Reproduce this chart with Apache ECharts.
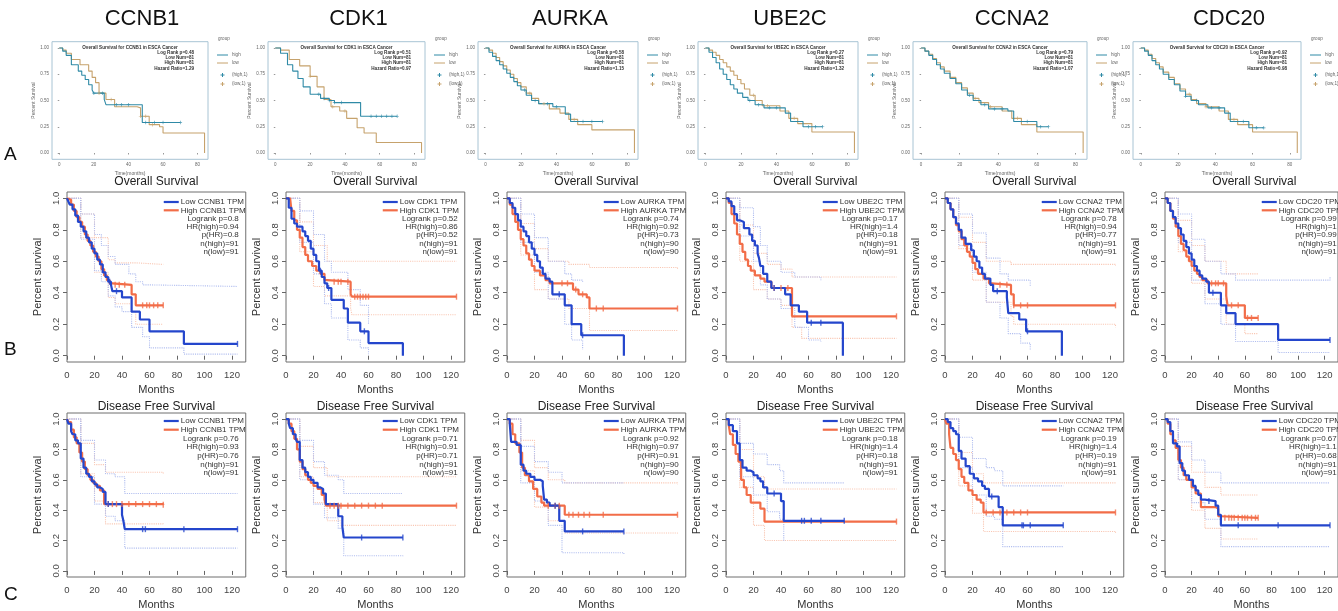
<!DOCTYPE html>
<html>
<head>
<meta charset="UTF-8">
<title>ESCA survival panels</title>
<script src="https://cdn.jsdelivr.net/npm/echarts@6/dist/echarts.min.js"></script>
<style>html,body{margin:0;padding:0;background:#fff}#main{width:1338px;height:611px}</style>
</head>
<body>
<div id="main"></div>
<script>
var genes = ['CCNB1', 'CDK1', 'AURKA', 'UBE2C', 'CCNA2', 'CDC20'];

// row A text
var aLogRank = ['0.48', '0.51', '0.58', '0.27', '0.79', '0.92'];
var aHazard = ['1.29', '0.97', '1.15', '1.32', '1.07', '0.98'];
var aLowNum = [81, 81, 81, 81, 81, 81];
var aHighNum = [81, 81, 81, 81, 81, 81];

// row B / C text
var osLogrank = ['0.8', '0.52', '0.74', '0.17', '0.78', '0.99'];
var osHR = ['0.94', '0.86', '0.92', '1.4', '0.94', '1'];
var osPHR = ['0.8', '0.52', '0.73', '0.18', '0.77', '0.99'];
var osN = [91, 91, 90, 91, 91, 91];
var dfsLogrank = ['0.76', '0.71', '0.92', '0.18', '0.19', '0.67'];
var dfsHR = ['0.93', '0.91', '0.97', '1.4', '1.4', '1.1'];
var dfsPHR = ['0.76', '0.71', '0.91', '0.18', '0.19', '0.68'];
var dfsN = [91, 91, 90, 91, 91, 91];

var xTicksKM = [0, 20, 40, 60, 80, 100, 120];
var yTicksKM = [0, 0.2, 0.4, 0.6, 0.8, 1.0];
var xTicksA = [0, 20, 40, 60, 80];
var yTicksA = [0, 0.25, 0.5, 0.75, 1.0];

// ---- row A curves [months, survival] ----
var aHigh_CCNB1 = [[0,1],[2,0.97],[4,0.93],[7,0.84],[11,0.78],[13,0.74],[15,0.7],[17,0.65],[19,0.6],[20,0.57],[26,0.51],[27,0.46],[48,0.29],[70,0.29]];
var aLow_CCNB1 = [[0,1],[2,0.98],[4,0.95],[7,0.89],[12,0.84],[17,0.78],[19,0.72],[21,0.67],[23,0.57],[27,0.51],[32,0.44],[45,0.43],[47,0.35],[52,0.27],[58,0.25],[60,0.19],[84,0.19],[84,0]];
var aHighCens_CCNB1 = [20, 25, 33, 36, 40, 50, 55, 60, 70];
var aLowCens_CCNB1 = [23, 30, 47, 50, 54];
var aHigh_CDK1 = [[0,1],[3,0.95],[7,0.84],[10,0.78],[13,0.71],[16,0.63],[20,0.56],[26,0.52],[31,0.5],[34,0.48],[49,0.35],[70,0.35]];
var aLow_CDK1 = [[0,1],[3,0.98],[8,0.89],[14,0.83],[20,0.73],[24,0.63],[28,0.51],[32,0.44],[37,0.4],[41,0.33],[47,0.24],[51,0.19],[58,0.1],[84,0.1],[84,0]];
var aHighCens_CDK1 = [25, 28, 31, 34, 38, 55, 58, 61, 64, 67, 70];
var aLowCens_CDK1 = [20, 33, 40];
var aHigh_AURKA = [[0,1],[2,0.96],[4,0.92],[6,0.88],[8,0.84],[10,0.8],[12,0.76],[14,0.72],[16,0.68],[18,0.64],[20,0.6],[23,0.55],[26,0.5],[30,0.47],[38,0.44],[45,0.37],[48,0.3],[66,0.3]];
var aLow_AURKA = [[0,1],[2,0.98],[4,0.95],[6,0.91],[8,0.87],[10,0.83],[12,0.79],[14,0.75],[16,0.71],[18,0.67],[20,0.63],[23,0.57],[26,0.52],[30,0.47],[36,0.42],[42,0.38],[47,0.32],[52,0.27],[60,0.22],[84,0.22],[84,0]];
var aHighCens_AURKA = [22, 28, 35, 40, 55, 60, 66];
var aLowCens_AURKA = [25, 33, 50];
var aHigh_UBE2C = [[0,1],[2,0.96],[4,0.91],[6,0.86],[8,0.8],[10,0.75],[12,0.7],[14,0.65],[16,0.61],[18,0.57],[21,0.53],[24,0.5],[28,0.46],[33,0.43],[45,0.38],[48,0.3],[55,0.25],[66,0.25]];
var aLow_UBE2C = [[0,1],[2,0.98],[4,0.96],[6,0.93],[8,0.89],[10,0.86],[12,0.82],[14,0.78],[16,0.74],[18,0.7],[20,0.66],[22,0.61],[25,0.55],[28,0.5],[32,0.45],[42,0.4],[47,0.33],[52,0.28],[60,0.2],[84,0.2],[84,0]];
var aHighCens_UBE2C = [25, 30, 36, 40, 58, 62, 66];
var aLowCens_UBE2C = [27, 35, 50];
var aHigh_CCNA2 = [[0,1],[2,0.97],[4,0.93],[6,0.89],[8,0.84],[10,0.8],[12,0.76],[15,0.71],[18,0.66],[21,0.6],[24,0.55],[27,0.5],[31,0.46],[35,0.42],[45,0.4],[48,0.3],[60,0.25],[66,0.25]];
var aLow_CCNA2 = [[0,1],[2,0.97],[4,0.94],[6,0.9],[8,0.86],[10,0.82],[12,0.78],[15,0.72],[18,0.67],[21,0.62],[24,0.57],[27,0.52],[30,0.48],[35,0.44],[42,0.4],[47,0.33],[52,0.27],[60,0.2],[84,0.15],[84,0]];
var aHighCens_CCNA2 = [25, 33, 38, 42, 55, 62, 66];
var aLowCens_CCNA2 = [28, 36, 50];
var aHigh_CDC20 = [[0,1],[2,0.97],[4,0.93],[6,0.88],[8,0.84],[10,0.8],[12,0.75],[15,0.7],[18,0.65],[21,0.59],[24,0.54],[27,0.5],[31,0.46],[36,0.43],[45,0.38],[48,0.3],[58,0.24],[66,0.24]];
var aLow_CDC20 = [[0,1],[2,0.98],[4,0.94],[6,0.9],[8,0.86],[10,0.82],[12,0.77],[15,0.72],[18,0.66],[21,0.61],[24,0.56],[27,0.51],[30,0.47],[35,0.44],[42,0.4],[47,0.32],[52,0.27],[60,0.2],[84,0.2],[84,0]];
var aHighCens_CDC20 = [24, 30, 38, 42, 55, 62, 66];
var aLowCens_CDC20 = [26, 35, 50];

// ---- row B: overall survival (GEPIA) ----
var osLow_CCNB1 = [[0,1],[1,0.98],[2,0.96],[4,0.93],[6,0.89],[8,0.85],[10,0.82],[12,0.79],[14,0.75],[16,0.72],[18,0.68],[20,0.65],[22,0.61],[24,0.58],[26,0.53],[28,0.5],[30,0.47],[32,0.45],[33,0.41],[40,0.37],[47,0.28],[53,0.23],[60,0.155],[85,0.075],[124,0.075]];
var osHigh_CCNB1 = [[0,1],[1,0.99],[3,0.96],[5,0.92],[7,0.88],[9,0.85],[11,0.82],[13,0.77],[15,0.73],[17,0.7],[19,0.66],[21,0.63],[23,0.6],[25,0.55],[27,0.51],[29,0.48],[31,0.46],[33,0.45],[47,0.39],[50,0.32],[70,0.32]];
var osLowUp_CCNB1 = [[0,1],[10,0.9],[20,0.77],[25,0.7],[30,0.63],[35,0.58],[45,0.52],[50,0.47],[55,0.45],[60,0.44],[124,0.44]];
var osLowDn_CCNB1 = [[0,1],[10,0.74],[20,0.54],[25,0.47],[30,0.38],[35,0.31],[40,0.28],[47,0.18],[55,0.12],[60,0.05],[85,0.01],[124,0.01]];
var osHighUp_CCNB1 = [[0,1],[10,0.9],[20,0.75],[30,0.61],[35,0.59],[50,0.58],[70,0.58]];
var osHighDn_CCNB1 = [[0,1],[10,0.75],[20,0.53],[30,0.37],[35,0.33],[47,0.28],[50,0.2],[70,0.2]];
var osLowCens_CCNB1 = [31, 36, 124];
var osHighCens_CCNB1 = [35, 38, 42, 55, 58, 60, 63, 66, 70];

var osLow_CDK1 = [[0,1],[2,0.94],[4,0.87],[6,0.84],[8,0.82],[12,0.79],[14,0.76],[16,0.73],[18,0.68],[20,0.64],[22,0.6],[24,0.54],[26,0.5],[28,0.46],[30,0.43],[33,0.355],[42,0.3],[45,0.21],[54,0.155],[60,0.08],[85,0.08],[85,0]];
var osHigh_CDK1 = [[0,1],[3,1],[4,0.92],[6,0.86],[8,0.8],[10,0.75],[12,0.69],[14,0.64],[16,0.6],[19,0.57],[22,0.54],[25,0.52],[28,0.48],[30,0.47],[47,0.39],[48,0.375],[124,0.375]];
var osLowUp_CDK1 = [[0,1],[10,0.92],[20,0.77],[28,0.6],[33,0.53],[45,0.42],[54,0.32],[60,0.2]];
var osLowDn_CDK1 = [[0,1],[10,0.72],[20,0.52],[28,0.33],[33,0.24],[45,0.1],[54,0.05],[60,0.01]];
var osHighUp_CDK1 = [[0,1],[10,0.85],[20,0.7],[30,0.6],[124,0.6]];
var osHighDn_CDK1 = [[0,1],[10,0.66],[20,0.44],[28,0.38],[47,0.3],[48,0.26],[124,0.26]];
var osLowCens_CDK1 = [25, 31, 57];
var osHighCens_CDK1 = [35, 38, 40, 45, 50, 52, 54, 56, 58, 60, 124];

var osLow_AURKA = [[0,1],[2,0.97],[4,0.94],[6,0.9],[8,0.86],[10,0.82],[12,0.79],[14,0.76],[16,0.72],[18,0.68],[20,0.64],[22,0.6],[24,0.56],[26,0.52],[28,0.49],[31,0.47],[33,0.39],[42,0.32],[47,0.2],[54,0.13],[85,0.13],[85,0]];
var osHigh_AURKA = [[0,1],[2,0.96],[4,0.9],[6,0.85],[8,0.8],[10,0.74],[12,0.7],[14,0.65],[16,0.61],[18,0.57],[20,0.54],[24,0.51],[28,0.48],[31,0.46],[48,0.42],[52,0.39],[58,0.37],[60,0.3],[124,0.3]];
var osLowUp_AURKA = [[0,1],[10,0.9],[20,0.75],[30,0.6],[42,0.52],[47,0.48],[55,0.47]];
var osLowDn_AURKA = [[0,1],[10,0.72],[20,0.53],[30,0.36],[42,0.2],[47,0.1],[55,0.04]];
var osHighUp_AURKA = [[0,1],[10,0.84],[20,0.68],[30,0.6],[45,0.58],[60,0.56],[124,0.55]];
var osHighDn_AURKA = [[0,1],[10,0.64],[20,0.42],[30,0.36],[45,0.3],[60,0.16],[124,0.16]];
var osLowCens_AURKA = [38, 55];
var osHighCens_AURKA = [40, 44, 50, 55, 65, 70, 124];

var osLow_UBE2C = [[0,1],[2,0.98],[4,0.95],[6,0.9],[8,0.86],[10,0.85],[13,0.81],[17,0.77],[19,0.73],[21,0.7],[23,0.65],[24,0.62],[25,0.57],[27,0.52],[30,0.47],[33,0.43],[43,0.39],[47,0.32],[53,0.28],[59,0.21],[85,0.21],[85,0]];
var osHigh_UBE2C = [[0,1],[2,0.97],[4,0.9],[6,0.84],[8,0.77],[10,0.71],[12,0.66],[14,0.61],[16,0.57],[18,0.54],[21,0.51],[25,0.49],[28,0.47],[33,0.43],[48,0.25],[124,0.25]];
var osLowUp_UBE2C = [[0,1],[10,0.94],[20,0.82],[25,0.7],[30,0.6],[40,0.53],[50,0.5],[69,0.48]];
var osLowDn_UBE2C = [[0,1],[10,0.76],[20,0.6],[25,0.45],[30,0.36],[40,0.3],[50,0.18],[60,0.1],[69,0.09]];
var osHighUp_UBE2C = [[0,1],[10,0.83],[20,0.65],[30,0.58],[40,0.55],[48,0.5],[124,0.5]];
var osHighDn_UBE2C = [[0,1],[10,0.6],[20,0.42],[30,0.36],[40,0.32],[48,0.18],[55,0.11],[124,0.11]];
var osLowCens_UBE2C = [35, 62, 69];
var osHighCens_UBE2C = [35, 40, 45, 124];

var osLow_CCNA2 = [[0,1],[2,0.97],[4,0.93],[6,0.88],[8,0.84],[10,0.8],[12,0.75],[15,0.71],[19,0.67],[21,0.63],[23,0.6],[25,0.56],[27,0.52],[29,0.49],[33,0.45],[35,0.41],[45,0.37],[46,0.27],[54,0.23],[59,0.155],[85,0.155],[85,0]];
var osHigh_CCNA2 = [[0,1],[2,0.97],[4,0.93],[6,0.88],[8,0.83],[10,0.79],[12,0.74],[14,0.7],[16,0.66],[18,0.63],[20,0.59],[22,0.55],[24,0.52],[28,0.49],[32,0.46],[34,0.45],[48,0.39],[50,0.32],[124,0.32]];
var osLowUp_CCNA2 = [[0,1],[10,0.9],[20,0.78],[30,0.62],[40,0.52],[46,0.48],[62,0.44]];
var osLowDn_CCNA2 = [[0,1],[10,0.7],[20,0.53],[30,0.34],[40,0.24],[46,0.14],[55,0.08],[62,0.04]];
var osHighUp_CCNA2 = [[0,1],[10,0.88],[20,0.72],[30,0.6],[48,0.58],[124,0.57]];
var osHighDn_CCNA2 = [[0,1],[10,0.68],[20,0.48],[30,0.34],[48,0.25],[50,0.2],[124,0.18]];
var osLowCens_CCNA2 = [38, 60];
var osHighCens_CCNA2 = [40, 45, 50, 55, 60, 124];

var osLow_CDC20 = [[0,1],[2,0.97],[4,0.92],[6,0.88],[8,0.84],[10,0.81],[12,0.77],[14,0.73],[16,0.69],[18,0.65],[20,0.61],[22,0.57],[24,0.54],[26,0.51],[28,0.49],[31,0.47],[33,0.4],[42,0.32],[46,0.27],[53,0.2],[85,0.1],[124,0.1]];
var osHigh_CDC20 = [[0,1],[2,0.97],[4,0.92],[6,0.87],[8,0.82],[10,0.76],[12,0.71],[14,0.67],[16,0.63],[18,0.6],[20,0.57],[22,0.54],[24,0.52],[26,0.5],[28,0.48],[32,0.46],[46,0.38],[47,0.32],[60,0.24],[70,0.24]];
var osLowUp_CDC20 = [[0,1],[10,0.9],[20,0.74],[30,0.6],[42,0.52],[53,0.48],[124,0.5]];
var osLowDn_CDC20 = [[0,1],[10,0.72],[20,0.48],[30,0.33],[42,0.2],[53,0.09],[85,0.02],[124,0.02]];
var osHighUp_CDC20 = [[0,1],[10,0.86],[20,0.7],[30,0.6],[46,0.52],[70,0.52]];
var osHighDn_CDC20 = [[0,1],[10,0.66],[20,0.46],[30,0.36],[46,0.2],[60,0.14],[70,0.14]];
var osLowCens_CDC20 = [36, 124];
var osHighCens_CDC20 = [35, 38, 40, 44, 50, 55, 62, 65, 70];

// ---- row C: disease free survival (GEPIA) ----
var dfsLow_CCNB1 = [[0,1],[1,0.97],[3,0.92],[4,0.9],[6,0.86],[8,0.84],[10,0.74],[12,0.68],[14,0.64],[16,0.62],[18,0.59],[20,0.57],[22,0.55],[24,0.54],[26,0.52],[28,0.44],[40,0.37],[41,0.33],[42,0.275],[124,0.275]];
var dfsHigh_CCNB1 = [[0,1],[1,0.98],[3,0.93],[5,0.88],[7,0.84],[9,0.78],[11,0.72],[13,0.67],[15,0.63],[17,0.6],[19,0.58],[21,0.56],[24,0.53],[27,0.44],[70,0.435]];
var dfsLowUp_CCNB1 = [[0,1],[10,0.86],[20,0.73],[28,0.64],[35,0.62],[42,0.51],[124,0.51]];
var dfsLowDn_CCNB1 = [[0,1],[10,0.62],[20,0.44],[28,0.36],[35,0.33],[42,0.15],[124,0.15]];
var dfsHighUp_CCNB1 = [[0,1],[10,0.84],[20,0.7],[28,0.65],[70,0.64]];
var dfsHighDn_CCNB1 = [[0,1],[10,0.64],[20,0.46],[28,0.31],[70,0.3]];
var dfsLowCens_CCNB1 = [30, 55, 57, 85, 124];
var dfsHighCens_CCNB1 = [30, 33, 36, 40, 45, 50, 55, 60, 65, 70];

var dfsLow_CDK1 = [[0,1],[2,0.97],[3,0.94],[5,0.9],[7,0.87],[8,0.85],[10,0.73],[12,0.68],[14,0.65],[16,0.62],[18,0.6],[20,0.58],[23,0.55],[25,0.54],[27,0.51],[29,0.44],[38,0.36],[41,0.29],[42,0.22],[85,0.22]];
var dfsHigh_CDK1 = [[0,1],[2,0.97],[4,0.92],[6,0.87],[8,0.8],[10,0.72],[12,0.67],[14,0.63],[16,0.6],[18,0.58],[20,0.56],[23,0.54],[26,0.5],[28,0.47],[29,0.43],[124,0.43]];
var dfsLowUp_CDK1 = [[0,1],[10,0.86],[20,0.72],[28,0.63],[38,0.6],[42,0.51],[85,0.51]];
var dfsLowDn_CDK1 = [[0,1],[10,0.6],[20,0.44],[28,0.35],[38,0.28],[42,0.1],[85,0.09]];
var dfsHighUp_CDK1 = [[0,1],[10,0.82],[20,0.68],[30,0.62],[124,0.62]];
var dfsHighDn_CDK1 = [[0,1],[10,0.62],[20,0.45],[30,0.33],[40,0.3],[124,0.3]];
var dfsLowCens_CDK1 = [55, 85];
var dfsHighCens_CDK1 = [32, 35, 38, 40, 45, 50, 55, 60, 65, 70, 124];

var dfsLow_AURKA = [[0,1],[2,0.97],[3,0.85],[7,0.83],[10,0.7],[12,0.66],[14,0.64],[17,0.62],[20,0.6],[24,0.59],[26,0.56],[27,0.47],[29,0.45],[31,0.43],[38,0.33],[42,0.26],[85,0.26]];
var dfsHigh_AURKA = [[0,1],[2,0.97],[4,0.9],[6,0.84],[9,0.78],[11,0.68],[13,0.63],[16,0.59],[19,0.54],[22,0.49],[25,0.45],[27,0.43],[42,0.37],[124,0.37]];
var dfsLowUp_AURKA = [[0,1],[10,0.82],[20,0.72],[30,0.65],[40,0.58],[85,0.58]];
var dfsLowDn_AURKA = [[0,1],[10,0.58],[20,0.46],[30,0.3],[40,0.12],[85,0.11]];
var dfsHighUp_AURKA = [[0,1],[10,0.86],[20,0.68],[30,0.6],[42,0.58],[124,0.57]];
var dfsHighDn_AURKA = [[0,1],[10,0.66],[20,0.42],[30,0.33],[42,0.25],[124,0.24]];
var dfsLowCens_AURKA = [35, 55, 85];
var dfsHighCens_AURKA = [30, 35, 38, 45, 48, 52, 56, 60, 70, 124];

var dfsLow_UBE2C = [[0,1],[2,0.96],[5,0.92],[8,0.84],[10,0.73],[12,0.68],[15,0.66],[18,0.65],[20,0.63],[23,0.61],[25,0.59],[27,0.55],[30,0.51],[40,0.46],[42,0.33],[86,0.33]];
var dfsHigh_UBE2C = [[0,1],[2,0.96],[3,0.9],[5,0.83],[7,0.77],[9,0.72],[11,0.6],[13,0.55],[15,0.5],[18,0.45],[23,0.45],[25,0.41],[28,0.325],[124,0.325]];
var dfsLowUp_UBE2C = [[0,1],[10,0.84],[20,0.77],[30,0.7],[39,0.66],[42,0.58],[86,0.58]];
var dfsLowDn_UBE2C = [[0,1],[10,0.62],[20,0.5],[30,0.39],[39,0.34],[42,0.2],[43,0.2]];
var dfsHighUp_UBE2C = [[0,1],[10,0.8],[20,0.62],[28,0.54],[124,0.54]];
var dfsHighDn_UBE2C = [[0,1],[10,0.55],[20,0.3],[28,0.2],[124,0.2]];
var dfsLowCens_UBE2C = [35, 55, 57, 62, 69, 86];
var dfsHighCens_UBE2C = [124];

var dfsLow_CCNA2 = [[0,1],[2,0.98],[4,0.94],[6,0.92],[8,0.9],[10,0.79],[12,0.74],[15,0.69],[18,0.64],[21,0.61],[24,0.59],[27,0.56],[29,0.54],[32,0.49],[39,0.42],[42,0.3],[86,0.3]];
var dfsHigh_CCNA2 = [[0,1],[1,0.97],[3,0.9],[4,0.81],[6,0.77],[8,0.73],[10,0.67],[12,0.62],[14,0.58],[17,0.53],[20,0.5],[23,0.47],[26,0.45],[28,0.385],[124,0.385]];
var dfsLowUp_CCNA2 = [[0,1],[10,0.88],[20,0.74],[30,0.68],[36,0.66],[42,0.56],[86,0.56]];
var dfsLowDn_CCNA2 = [[0,1],[10,0.68],[20,0.5],[30,0.36],[36,0.34],[42,0.16],[86,0.16]];
var dfsHighUp_CCNA2 = [[0,1],[10,0.78],[20,0.64],[28,0.58],[124,0.58]];
var dfsHighDn_CCNA2 = [[0,1],[10,0.56],[20,0.38],[28,0.26],[124,0.25]];
var dfsLowCens_CCNA2 = [34, 56, 57, 62, 86];
var dfsHighCens_CCNA2 = [30, 35, 40, 45, 50, 55, 60, 124];

var dfsLow_CDC20 = [[0,1],[2,0.98],[4,0.92],[6,0.84],[9,0.82],[11,0.71],[13,0.66],[15,0.63],[18,0.6],[21,0.56],[23,0.53],[25,0.5],[27,0.47],[30,0.46],[38,0.43],[40,0.37],[42,0.3],[124,0.3]];
var dfsHigh_CDC20 = [[0,1],[2,0.97],[4,0.9],[6,0.86],[8,0.81],[10,0.73],[12,0.68],[14,0.63],[16,0.6],[20,0.55],[23,0.51],[27,0.42],[38,0.41],[40,0.36],[42,0.35],[70,0.35]];
var dfsLowUp_CDC20 = [[0,1],[10,0.85],[20,0.73],[30,0.65],[42,0.58],[124,0.58]];
var dfsLowDn_CDC20 = [[0,1],[10,0.6],[20,0.45],[30,0.34],[42,0.16],[124,0.16]];
var dfsHighUp_CDC20 = [[0,1],[10,0.82],[20,0.65],[30,0.55],[42,0.5],[70,0.5]];
var dfsHighDn_CDC20 = [[0,1],[10,0.6],[20,0.4],[30,0.28],[42,0.21],[70,0.21]];
var dfsLowCens_CDC20 = [33, 55, 85, 124];
var dfsHighCens_CDC20 = [45, 48, 50, 52, 55, 58, 60, 62, 65, 68, 70];

var aHigh = [aHigh_CCNB1, aHigh_CDK1, aHigh_AURKA, aHigh_UBE2C, aHigh_CCNA2, aHigh_CDC20];
var aLow = [aLow_CCNB1, aLow_CDK1, aLow_AURKA, aLow_UBE2C, aLow_CCNA2, aLow_CDC20];
var aHighCens = [aHighCens_CCNB1, aHighCens_CDK1, aHighCens_AURKA, aHighCens_UBE2C, aHighCens_CCNA2, aHighCens_CDC20];
var aLowCens = [aLowCens_CCNB1, aLowCens_CDK1, aLowCens_AURKA, aLowCens_UBE2C, aLowCens_CCNA2, aLowCens_CDC20];

var os = {
  low: [osLow_CCNB1, osLow_CDK1, osLow_AURKA, osLow_UBE2C, osLow_CCNA2, osLow_CDC20],
  high: [osHigh_CCNB1, osHigh_CDK1, osHigh_AURKA, osHigh_UBE2C, osHigh_CCNA2, osHigh_CDC20],
  lowUp: [osLowUp_CCNB1, osLowUp_CDK1, osLowUp_AURKA, osLowUp_UBE2C, osLowUp_CCNA2, osLowUp_CDC20],
  lowDn: [osLowDn_CCNB1, osLowDn_CDK1, osLowDn_AURKA, osLowDn_UBE2C, osLowDn_CCNA2, osLowDn_CDC20],
  highUp: [osHighUp_CCNB1, osHighUp_CDK1, osHighUp_AURKA, osHighUp_UBE2C, osHighUp_CCNA2, osHighUp_CDC20],
  highDn: [osHighDn_CCNB1, osHighDn_CDK1, osHighDn_AURKA, osHighDn_UBE2C, osHighDn_CCNA2, osHighDn_CDC20],
  lowCens: [osLowCens_CCNB1, osLowCens_CDK1, osLowCens_AURKA, osLowCens_UBE2C, osLowCens_CCNA2, osLowCens_CDC20],
  highCens: [osHighCens_CCNB1, osHighCens_CDK1, osHighCens_AURKA, osHighCens_UBE2C, osHighCens_CCNA2, osHighCens_CDC20],
  logrank: osLogrank, hr: osHR, phr: osPHR, n: osN, title: 'Overall Survival'
};
var dfs = {
  low: [dfsLow_CCNB1, dfsLow_CDK1, dfsLow_AURKA, dfsLow_UBE2C, dfsLow_CCNA2, dfsLow_CDC20],
  high: [dfsHigh_CCNB1, dfsHigh_CDK1, dfsHigh_AURKA, dfsHigh_UBE2C, dfsHigh_CCNA2, dfsHigh_CDC20],
  lowUp: [dfsLowUp_CCNB1, dfsLowUp_CDK1, dfsLowUp_AURKA, dfsLowUp_UBE2C, dfsLowUp_CCNA2, dfsLowUp_CDC20],
  lowDn: [dfsLowDn_CCNB1, dfsLowDn_CDK1, dfsLowDn_AURKA, dfsLowDn_UBE2C, dfsLowDn_CCNA2, dfsLowDn_CDC20],
  highUp: [dfsHighUp_CCNB1, dfsHighUp_CDK1, dfsHighUp_AURKA, dfsHighUp_UBE2C, dfsHighUp_CCNA2, dfsHighUp_CDC20],
  highDn: [dfsHighDn_CCNB1, dfsHighDn_CDK1, dfsHighDn_AURKA, dfsHighDn_UBE2C, dfsHighDn_CCNA2, dfsHighDn_CDC20],
  lowCens: [dfsLowCens_CCNB1, dfsLowCens_CDK1, dfsLowCens_AURKA, dfsLowCens_UBE2C, dfsLowCens_CCNA2, dfsLowCens_CDC20],
  highCens: [dfsHighCens_CCNB1, dfsHighCens_CDK1, dfsHighCens_AURKA, dfsHighCens_UBE2C, dfsHighCens_CCNA2, dfsHighCens_CDC20],
  logrank: dfsLogrank, hr: dfsHR, phr: dfsPHR, n: dfsN, title: 'Disease Free Survival'
};

// layout
var FONT = '"Liberation Sans", Arial, sans-serif';
var colX0 = [67, 286, 507, 726, 945, 1165];   // month 0 of rows B and C
var pxMonth = 1.375;
var aBoxL = [52, 268, 478, 698, 913, 1133];
var aBoxW = [156, 157, 160, 160, 174, 168];
var LOW_C = '#2446cc', HIGH_C = '#f26d48', LOW_CI = '#b0bdef', HIGH_CI = '#f9c6b2';
var TEAL = '#2f8aa6', TAN = '#c6a26c';

var grids = [], xAxes = [], yAxes = [], series = [], graphics = [];

function survAt(curve, t) {
  var v = curve[0][1];
  for (var i = 0; i < curve.length; i++) { if (curve[i][0] <= t) v = curve[i][1]; }
  return v;
}
function txt(x, y, s, size, align, color, weight, family) {
  graphics.push({ type: 'text', x: x, y: y, silent: true, z: 100,
    style: { text: s, font: (weight || 'normal') + ' ' + size + 'px ' + (family || FONT), fill: color || '#222',
      textAlign: align || 'left', textVerticalAlign: 'middle', align: align || 'left', verticalAlign: 'middle' } });
}
function seg(x1, y1, x2, y2, color, w) {
  graphics.push({ type: 'line', silent: true, z: 100, shape: { x1: x1, y1: y1, x2: x2, y2: y2 }, style: { stroke: color, lineWidth: w } });
}
function stepLine(data, gi, color, width, dash, z) {
  return { type: 'line', step: 'end', xAxisIndex: gi, yAxisIndex: gi, data: data, symbol: 'none', showSymbol: false,
    lineStyle: { color: color, width: width, type: dash }, silent: true, animation: false, z: z };
}
function censors(curve, times, gi, color, symbol, size, z) {
  return { type: 'scatter', xAxisIndex: gi, yAxisIndex: gi, symbol: symbol, symbolSize: size, silent: true, animation: false, z: z,
    itemStyle: { color: color }, data: times.map(function (t) { return [t, survAt(curve, t)]; }) };
}

// ---- row A panels ----
var PLUS = 'path://M4,0H6V4H10V6H6V10H4V6H0V4H4Z';
genes.forEach(function (g, i) {
  var gi = grids.length, L = aBoxL[i], W = aBoxW[i], R = L + W;
  grids.push({ left: L, top: 41.7, width: W, height: 117.6, show: true, borderColor: '#a8c4d4', borderWidth: 1, backgroundColor: 'transparent' });
  xAxes.push({ type: 'value', gridIndex: gi, min: -4.2, max: 86, splitLine: { show: false }, axisLine: { show: false },
    axisTick: { customValues: xTicksA, length: 1.5, lineStyle: { color: '#999' } },
    axisLabel: { customValues: xTicksA, fontSize: 4.5, color: '#666', margin: 3, fontFamily: FONT },
    name: 'Time(months)', nameLocation: 'middle', nameGap: 12, nameTextStyle: { fontSize: 5, color: '#666', fontFamily: FONT } });
  yAxes.push({ type: 'value', gridIndex: gi, min: -0.06, max: 1.06, splitLine: { show: false }, axisLine: { show: false },
    axisTick: { customValues: yTicksA, length: 1.5, lineStyle: { color: '#999' } },
    axisLabel: { customValues: yTicksA, fontSize: 4.5, color: '#666', margin: 3, fontFamily: FONT,
      formatter: function (v) { return v.toFixed(2); } },
    name: 'Percent Survival', nameLocation: 'middle', nameGap: 14, nameTextStyle: { fontSize: 5, color: '#666', fontFamily: FONT } });
  series.push(stepLine(aLow[i], gi, TAN, 1.1, 'solid', 3));
  series.push(stepLine(aHigh[i], gi, TEAL, 1.1, 'solid', 4));
  series.push(censors(aLow[i], aLowCens[i], gi, TAN, PLUS, 3.5, 5));
  series.push(censors(aHigh[i], aHighCens[i], gi, TEAL, PLUS, 3.5, 6));

  txt(L + W / 2, 47.5, 'Overall Survival for ' + g + ' in ESCA Cancer', 4.6, 'center', '#333', 'bold');
  txt(R - 14, 52.8, 'Log Rank p=' + aLogRank[i], 4.6, 'right', '#333', 'bold');
  txt(R - 14, 58, 'Low Num=' + aLowNum[i], 4.6, 'right', '#333', 'bold');
  txt(R - 14, 63.2, 'High Num=' + aHighNum[i], 4.6, 'right', '#333', 'bold');
  txt(R - 14, 68.4, 'Hazard Ratio=' + aHazard[i], 4.6, 'right', '#333', 'bold');
  // legend
  txt(R + 10, 39, 'group', 4.6, 'left', '#666');
  seg(R + 9, 55, R + 20, 55, TEAL, 1);
  txt(R + 24, 55, 'high', 4.6, 'left', '#666');
  seg(R + 9, 63, R + 20, 63, TAN, 1);
  txt(R + 24, 63, 'low', 4.6, 'left', '#666');
  seg(R + 12.5, 75, R + 16.5, 75, TEAL, 1); seg(R + 14.5, 73, R + 14.5, 77, TEAL, 1);
  txt(R + 24, 75, '(high,1)', 4.6, 'left', '#666');
  seg(R + 12.5, 84, R + 16.5, 84, TAN, 1); seg(R + 14.5, 82, R + 14.5, 86, TAN, 1);
  txt(R + 24, 84, '(low,1)', 4.6, 'left', '#666');
  // column title
  txt(L + W / 2 + 12, 19, g, 22, 'center', '#111');
});

// ---- rows B and C ----
function kmRow(set, top, h, titleY, legTop, legStep) {
  genes.forEach(function (g, i) {
    var gi = grids.length, L = colX0[i], W = 130 * pxMonth, R = L + W;
    grids.push({ left: L, top: top, width: W, height: h, show: true, borderColor: '#6f6f6f', borderWidth: 1, backgroundColor: 'transparent' });
    xAxes.push({ type: 'value', gridIndex: gi, min: 0, max: 130, splitLine: { show: false }, axisLine: { show: false },
      axisTick: { customValues: xTicksKM, length: 4, lineStyle: { color: '#666' } },
      axisLabel: { customValues: xTicksKM, fontSize: 9.5, color: '#444', margin: 8, fontFamily: FONT },
      name: 'Months', nameLocation: 'middle', nameGap: 22, nameTextStyle: { fontSize: 11, color: '#333', fontFamily: FONT } });
    yAxes.push({ type: 'value', gridIndex: gi, min: -0.04, max: 1.04, splitLine: { show: false }, axisLine: { show: false },
      axisTick: { customValues: yTicksKM, length: 4, lineStyle: { color: '#666' } },
      axisLabel: { customValues: yTicksKM, fontSize: 9.5, color: '#444', margin: 6, rotate: 90, fontFamily: FONT,
        formatter: function (v) { return v.toFixed(1); } },
      name: 'Percent survival', nameLocation: 'middle', nameGap: 24, nameTextStyle: { fontSize: 11, color: '#333', fontFamily: FONT } });
    series.push(stepLine(set.highUp[i], gi, HIGH_CI, 1.1, 'dotted', 1));
    series.push(stepLine(set.highDn[i], gi, HIGH_CI, 1.1, 'dotted', 1));
    series.push(stepLine(set.lowUp[i], gi, LOW_CI, 1.1, 'dotted', 1));
    series.push(stepLine(set.lowDn[i], gi, LOW_CI, 1.1, 'dotted', 1));
    series.push(stepLine(set.high[i], gi, HIGH_C, 2.2, 'solid', 3));
    series.push(stepLine(set.low[i], gi, LOW_C, 2.2, 'solid', 4));
    series.push(censors(set.high[i], set.highCens[i], gi, HIGH_C, 'rect', [1.4, 6], 5));
    series.push(censors(set.low[i], set.lowCens[i], gi, LOW_C, 'rect', [1.4, 6], 6));

    txt(L + W / 2, titleY, set.title, 12, 'center', '#222');
    var y = top + legTop;
    seg(R - 82, y, R - 67, y, LOW_C, 2.2);
    txt(R - 65, y, 'Low ' + g + ' TPM', 8, 'left', '#333');
    seg(R - 82, y + legStep, R - 67, y + legStep, HIGH_C, 2.2);
    txt(R - 65, y + legStep, 'High ' + g + ' TPM', 8, 'left', '#333');
    var lines = ['Logrank p=' + set.logrank[i], 'HR(high)=' + set.hr[i], 'p(HR)=' + set.phr[i], 'n(high)=' + set.n[i], 'n(low)=' + set.n[i]];
    lines.forEach(function (s, k) { txt(R - 7, y + legStep * (k + 2), s, 8, 'right', '#333'); });
  });
}
kmRow(os, 192, 170, 182, 10, 8.3);
kmRow(dfs, 413, 168.5, 407, 8, 8.7);

// panel letters
txt(4, 155, 'A', 19, 'left', '#111');
txt(4, 350, 'B', 19, 'left', '#111');
txt(4, 595, 'C', 19, 'left', '#111');

var chart = echarts.init(document.getElementById('main'));
chart.setOption({
  animation: false,
  backgroundColor: '#ffffff',
  grid: grids,
  xAxis: xAxes,
  yAxis: yAxes,
  series: series,
  graphic: { elements: graphics }
});
</script>
</body>
</html>
